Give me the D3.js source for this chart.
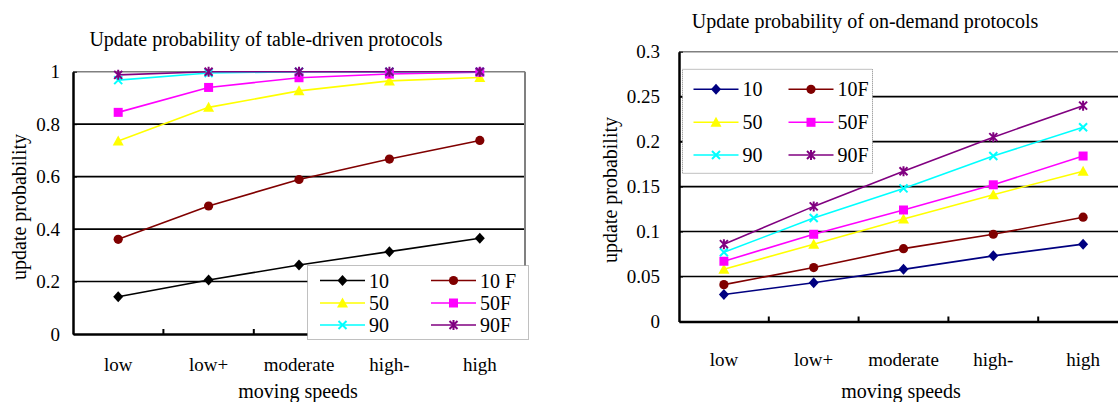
<!DOCTYPE html>
<html>
<head>
<meta charset="utf-8">
<script src="https://cdn.jsdelivr.net/npm/d3@7"></script>
<style>
  body { margin: 0; background: #fff; }
  svg { display: block; font-family: "Liberation Serif", "Times New Roman", serif; }
  .axis path, .axis line { stroke: #000; }
</style>
</head>
<body>
<svg id="chart" width="1118" height="402"></svg>
<script>

//****DATA
var categories = ["low", "low+", "moderate", "high-", "high"];

var seriesNames = ["10", "10F", "50", "50F", "90", "90F"];
var legendLeft = ["10", "10 F", "50", "50F", "90", "90F"];
var legendRight = ["10", "10F", "50", "50F", "90", "90F"];

// table-driven protocols
var table10  = [0.142, 0.206, 0.263, 0.314, 0.365];
var table10F = [0.361, 0.488, 0.589, 0.667, 0.738];
var table50  = [0.736, 0.864, 0.927, 0.965, 0.978];
var table50F = [0.845, 0.940, 0.977, 0.991, 0.998];
var table90  = [0.968, 0.995, 1.0, 1.0, 1.0];
var table90F = [0.988, 1.0, 1.0, 1.0, 1.0];

// on-demand protocols
var demand10  = [0.030, 0.043, 0.058, 0.073, 0.086];
var demand10F = [0.041, 0.060, 0.081, 0.097, 0.116];
var demand50  = [0.058, 0.086, 0.114, 0.141, 0.167];
var demand50F = [0.067, 0.097, 0.124, 0.152, 0.184];
var demand90  = [0.077, 0.115, 0.148, 0.184, 0.216];
var demand90F = [0.086, 0.128, 0.167, 0.205, 0.240];

var leftTicks = [0, 0.2, 0.4, 0.6, 0.8, 1];
var rightTicks = [0, 0.05, 0.1, 0.15, 0.2, 0.25, 0.3];

//****STYLE per series (marker + colour)
var markerTypes = ["diamond", "circle", "triangle", "square", "cross", "asterisk"];
var colorsLeft  = ["#000000", "#800000", "#ffff00", "#ff00ff", "#00ffff", "#800080"];
var colorsRight = ["#000080", "#800000", "#ffff00", "#ff00ff", "#00ffff", "#800080"];

var svg = d3.select("#chart");

//marker path strings, centred at 0,0
function markerPath(type) {
	switch (type) {
		case "diamond": return "M0,-5.5L5,0L0,5.5L-5,0Z";
		case "circle": return "M4.6,0A4.6,4.6 0 1,1 -4.6,0A4.6,4.6 0 1,1 4.6,0Z";
		case "triangle": return "M0,-5.5L5.5,4.5L-5.5,4.5Z";
		case "square": return "M-4.5,-4.5L4.5,-4.5L4.5,4.5L-4.5,4.5Z";
		case "cross": return "M-4,-4L4,4M-4,4L4,-4";
		case "asterisk": return "M-4,-4L4,4M-4,4L4,-4M0,-5L0,5";
	}
}

function addMarker(g, type, color, cx, cy) {
	var stroked = (type === "cross" || type === "asterisk");
	g.append("path")
		.attr("d", markerPath(type))
		.attr("transform", "translate(" + cx + "," + cy + ")")
		.attr("fill", stroked ? "none" : color)
		.attr("stroke", stroked ? color : "none")
		.attr("stroke-width", stroked ? 2 : 0);
}

//axis text in the page font
function styleAxis(a) {
	a.attr("font-family", null).attr("font-size", null);
	a.select(".domain").attr("stroke-width", 2.5);
	a.selectAll("text").attr("font-size", 19).attr("fill", "#000");
}

function drawChart(cfg) {
	var g = svg.append("g");

	var x = d3.scaleBand()
		.domain(categories)
		.range([cfg.left, cfg.right]);

	var y = d3.scaleLinear()
		.domain([0, cfg.max])
		.range([cfg.bottom, cfg.top]);

	//gridlines (top one is the grey frame)
	g.selectAll("line.grid")
		.data(cfg.ticks.filter(function(t) { return t > 0; }))
		.enter().append("line")
		.attr("class", "grid")
		.attr("x1", cfg.left)
		.attr("x2", cfg.right)
		.attr("y1", function(d) { return y(d); })
		.attr("y2", function(d) { return y(d); })
		.attr("stroke", function(d) { return d === cfg.max ? "#808080" : "#000"; })
		.attr("stroke-width", 1.6);

	//grey right frame
	g.append("line")
		.attr("x1", cfg.right).attr("x2", cfg.right)
		.attr("y1", y(cfg.max)).attr("y2", y(0))
		.attr("stroke", "#808080")
		.attr("stroke-width", 2);

	//y axis
	var yAxis = d3.axisLeft(y)
		.tickValues(cfg.ticks)
		.tickFormat(function(d) { return d3.format("")(+d.toFixed(2)); })
		.tickSizeInner(-4)
		.tickSizeOuter(0)
		.tickPadding(cfg.yPad);

	g.append("g")
		.attr("class", "axis")
		.attr("transform", "translate(" + cfg.left + ",0)")
		.call(yAxis)
		.call(styleAxis);

	//x axis, labels centred in bands
	var xAxis = d3.axisBottom(x)
		.tickSize(0)
		.tickPadding(cfg.xPad);

	g.append("g")
		.attr("class", "axis")
		.attr("transform", "translate(0," + cfg.bottom + ")")
		.call(xAxis)
		.call(styleAxis);

	//x ticks sit on the band boundaries, pointing in
	g.selectAll("line.xtick")
		.data(categories.slice(1))
		.enter().append("line")
		.attr("class", "xtick")
		.attr("x1", function(d) { return x(d); })
		.attr("x2", function(d) { return x(d); })
		.attr("y1", cfg.bottom)
		.attr("y2", cfg.bottom - 5)
		.attr("stroke", "#000")
		.attr("stroke-width", 2);

	//series lines
	var line = d3.line()
		.x(function(d, i) { return x(categories[i]) + x.bandwidth() / 2; })
		.y(function(d) { return y(d); });

	cfg.series.forEach(function(s, i) {
		g.append("path")
			.datum(s)
			.attr("fill", "none")
			.attr("stroke", cfg.colors[i])
			.attr("stroke-width", 1.6)
			.attr("d", line);
	});

	cfg.series.forEach(function(s, i) {
		s.forEach(function(v, j) {
			addMarker(g, markerTypes[i], cfg.colors[i], x(categories[j]) + x.bandwidth() / 2, y(v));
		});
	});

	//titles
	g.append("text")
		.attr("x", cfg.titleX)
		.attr("y", cfg.titleY)
		.attr("text-anchor", "middle")
		.attr("font-size", 20)
		.text(cfg.title);

	g.append("text")
		.attr("x", cfg.xTitleX)
		.attr("y", cfg.xTitleY)
		.attr("text-anchor", "middle")
		.attr("font-size", 20)
		.text("moving speeds");

	g.append("text")
		.attr("transform", "translate(" + cfg.yTitleX + "," + cfg.yTitleY + ") rotate(-90)")
		.attr("text-anchor", "middle")
		.attr("dy", "0.35em")
		.attr("font-size", 20)
		.text("update probability");

	//legend
	var L = cfg.legend;
	var lg = g.append("g");
	lg.append("rect")
		.attr("x", L.x).attr("y", L.y)
		.attr("width", L.w).attr("height", L.h)
		.attr("fill", "#fff")
		.attr("stroke", "#808080")
		.attr("stroke-width", 1)
		.attr("stroke-dasharray", "1,1");

	cfg.labels.forEach(function(lab, i) {
		var col = i % 2, row = Math.floor(i / 2);
		var x0 = L.cols[col], yy = L.rows[row];
		lg.append("line")
			.attr("x1", x0).attr("x2", x0 + L.lineW)
			.attr("y1", yy).attr("y2", yy)
			.attr("stroke", cfg.colors[i])
			.attr("stroke-width", 1.6);
		addMarker(lg, markerTypes[i], cfg.colors[i], x0 + L.lineW / 2, yy);
		lg.append("text")
			.attr("x", x0 + L.lineW + 4)
			.attr("y", yy)
			.attr("dy", "0.35em")
			.attr("font-size", 20)
			.text(lab);
	});
}

//table-driven chart
drawChart({
	left: 73, right: 525, top: 71.7, bottom: 334,
	max: 1, ticks: leftTicks, yPad: 13, xPad: 24,
	series: [table10, table10F, table50, table50F, table90, table90F],
	colors: colorsLeft,
	labels: legendLeft,
	title: "Update probability of table-driven protocols",
	titleX: 266, titleY: 46,
	xTitleX: 298, xTitleY: 398,
	yTitleX: 19, yTitleY: 207,
	legend: { x: 307.5, y: 265.5, w: 221, h: 74, rows: [280.5, 303, 325], cols: [320, 431], lineW: 45 }
});

//on-demand chart
drawChart({
	left: 679, right: 1128, top: 51.7, bottom: 321.5,
	max: 0.3, ticks: rightTicks, yPad: 19, xPad: 31,
	series: [demand10, demand10F, demand50, demand50F, demand90, demand90F],
	colors: colorsRight,
	labels: legendRight,
	title: "Update probability of on-demand protocols",
	titleX: 865, titleY: 28,
	xTitleX: 901, xTitleY: 398,
	yTitleX: 610, yTitleY: 190,
	legend: { x: 682.5, y: 69.3, w: 190, h: 104, rows: [89.3, 122.3, 155], cols: [693.5, 788.5], lineW: 45 }
});

</script>
</body>
</html>
